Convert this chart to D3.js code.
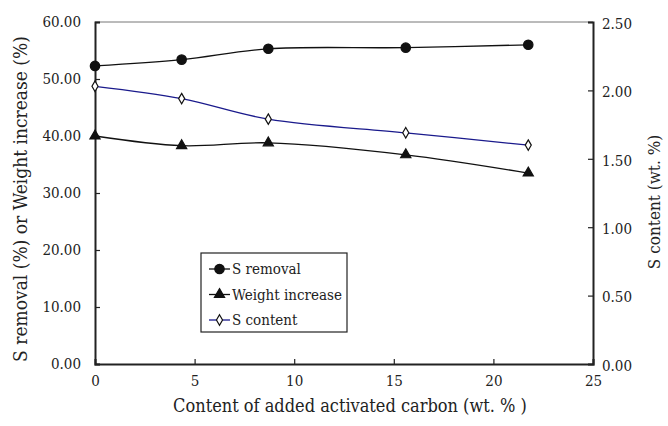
<!DOCTYPE html>
<html>
<head>
<meta charset="utf-8">
<script src="https://cdn.jsdelivr.net/npm/d3@7"></script>
<style>
  html, body { margin: 0; padding: 0; background: #fff; }
  svg { display: block; }
  svg text { font-family: "DejaVu Serif Condensed", "DejaVu Serif", serif; font-stretch: condensed; }
</style>
</head>
<body>
<svg id="chart" width="668" height="426"></svg>
<script>
// Carbon content added (wt. %)
const carbonContent = [0, 4.35, 8.7, 15.6, 21.75];
// Left axis series (%)
const sRemoval = [52.3, 53.4, 55.3, 55.5, 56.0];
const weightIncrease = [40.0, 38.3, 38.8, 36.7, 33.5];
// Right axis series (wt. %)
const sContent = [2.03, 1.94, 1.79, 1.69, 1.60];

const xTicks = [0, 5, 10, 15, 20, 25];
const yLeftTicks = [0, 10, 20, 30, 40, 50, 60];
const yRightTicks = [0, 0.5, 1.0, 1.5, 2.0, 2.5];

const legendLabels = ["S removal", "Weight increase", "S content"];

const TXT = "#222";

const margin = { left: 95, right: 75, top: 22, bottom: 62 };
const W = 668, H = 426;
const svg = d3.select("#chart");

const x = d3.scaleLinear().domain([0, 25]).range([margin.left, W - margin.right]);
const yL = d3.scaleLinear().domain([0, 60]).range([H - margin.bottom, margin.top]);
const yR = d3.scaleLinear().domain([0, 2.5]).range([H - margin.bottom, margin.top]);

// top frame line
svg.append("line")
  .attr("x1", x(0)).attr("x2", x(25))
  .attr("y1", yL(60)).attr("y2", yL(60))
  .attr("stroke", "#777").attr("stroke-width", 1);

// axes
const axisColor = "#222";
const gx = svg.append("g")
  .attr("transform", `translate(0,${yL(0)})`)
  .call(d3.axisBottom(x).tickValues(xTicks).tickSize(-5).tickPadding(11).tickFormat(d3.format("d")));
const gl = svg.append("g")
  .attr("transform", `translate(${x(0)},0)`)
  .call(d3.axisLeft(yL).tickValues(yLeftTicks).tickSize(-5).tickPadding(14).tickFormat(d3.format(".2f")));
const gr = svg.append("g")
  .attr("transform", `translate(${x(25)},0)`)
  .call(d3.axisRight(yR).tickValues(yRightTicks).tickSize(-5).tickPadding(9).tickFormat(d3.format(".2f")));

[gx, gl, gr].forEach(g => {
  g.attr("font-family", null);
  g.select(".domain").attr("stroke", axisColor).attr("stroke-width", 2);
  g.selectAll(".tick line").attr("stroke", axisColor).attr("stroke-width", 1.2);
  g.selectAll(".tick text").attr("font-size", 15).attr("fill", TXT);
});
gr.selectAll(".tick text").attr("dy", "0.42em");

// axis titles
function title(tr, str, size) {
  return svg.append("text")
    .attr("transform", tr)
    .attr("text-anchor", "middle").attr("font-size", size)
    .attr("fill", TXT)
    .text(str);
}
title(`translate(350,412)`, "Content of added activated carbon (wt. % )", 18);
title(`translate(27,199) rotate(-90)`, "S removal (%) or Weight increase (%)", 19);
title(`translate(654,202) rotate(-90)`, "S content (wt. %)", 17).attr("dy", "0.35em");

// line generators
const curve = d3.curveCatmullRom.alpha(0.5);
const lineL = d3.line().x((d, i) => x(carbonContent[i])).y(d => yL(d)).curve(curve);
const lineR = d3.line().x((d, i) => x(carbonContent[i])).y(d => yR(d)).curve(curve);

svg.append("path").datum(sRemoval).attr("d", lineL)
  .attr("fill", "none").attr("stroke", "#111").attr("stroke-width", 1.3);
svg.append("path").datum(weightIncrease).attr("d", lineL)
  .attr("fill", "none").attr("stroke", "#111").attr("stroke-width", 1.3);
svg.append("path").datum(sContent).attr("d", lineR)
  .attr("fill", "none").attr("stroke", "#1a1a8c").attr("stroke-width", 1.3);

// markers
const circleSym = d3.symbol().type(d3.symbolCircle).size(70);
const triSym = d3.symbol().type(d3.symbolTriangle).size(45);
const diaSym = d3.symbol().type(d3.symbolDiamond).size(32);

function drawMarkers(values, yScale, sym, fill, stroke) {
  svg.append("g").selectAll("path").data(values).join("path")
    .attr("transform", (d, i) => `translate(${x(carbonContent[i])},${yScale(d)})`)
    .attr("d", sym)
    .attr("fill", fill).attr("stroke", stroke).attr("stroke-width", 1.2);
}
drawMarkers(sRemoval, yL, circleSym, "#111", "#111");
drawMarkers(weightIncrease, yL, triSym, "#111", "#111");
drawMarkers(sContent, yR, diaSym, "#fff", "#111");

// legend
const lg = svg.append("g");
lg.append("rect").attr("x", 201).attr("y", 253).attr("width", 146).attr("height", 79)
  .attr("fill", "#fff").attr("stroke", "#222").attr("stroke-width", 1.2);
const legendItems = [
  { label: legendLabels[0], sym: circleSym, fill: "#111", line: "#111" },
  { label: legendLabels[1], sym: triSym, fill: "#111", line: "#111" },
  { label: legendLabels[2], sym: diaSym, fill: "#fff", line: "#1a1a8c" }
];
legendItems.forEach((it, i) => {
  const cy = 269 + i * 25.5;
  lg.append("line").attr("x1", 209).attr("x2", 230).attr("y1", cy).attr("y2", cy)
    .attr("stroke", it.line).attr("stroke-width", 1.3);
  lg.append("path").attr("transform", `translate(219.5,${cy})`).attr("d", it.sym)
    .attr("fill", it.fill).attr("stroke", "#111").attr("stroke-width", 1.2);
  lg.append("text").attr("x", 232).attr("y", cy).attr("dy", "0.35em")
    .attr("font-size", 15).attr("fill", TXT)
    .text(it.label);
});
</script>
</body>
</html>
